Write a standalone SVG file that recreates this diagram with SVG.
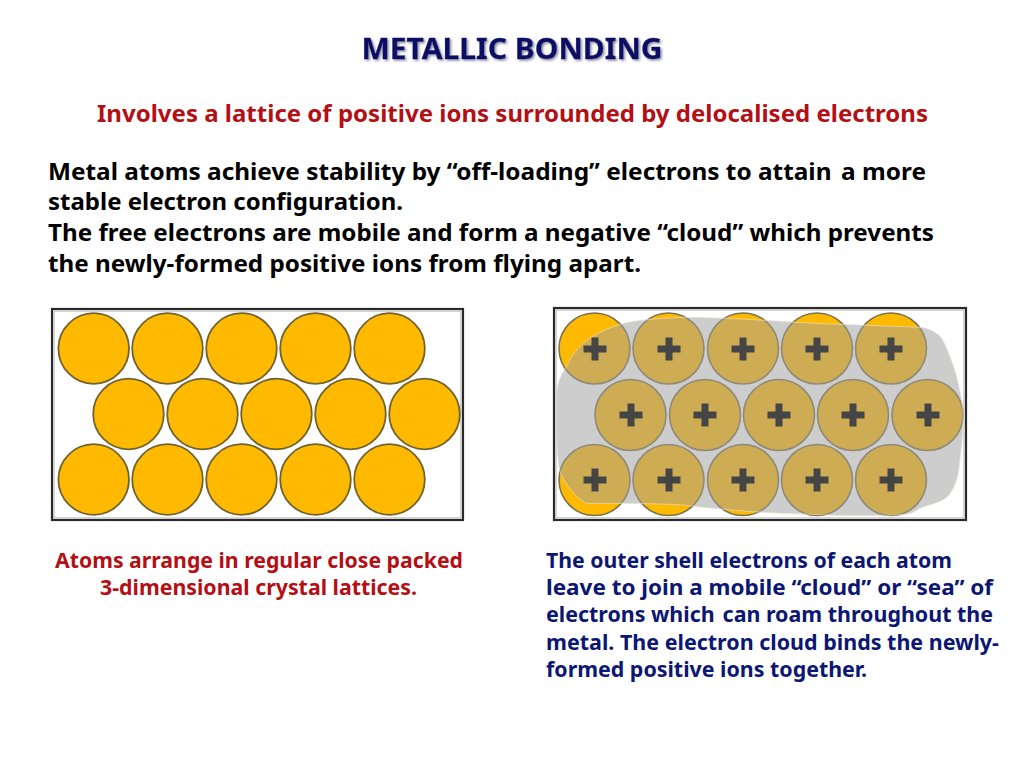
<svg xmlns="http://www.w3.org/2000/svg" width="1024" height="768" viewBox="0 0 1024 768">
<style>
text{font-family:"Noto Sans","Open Sans","DejaVu Sans",sans-serif;font-weight:700;white-space:pre}
.body{font-size:24px;fill:#000}
.red{font-size:20.5px;fill:#b30f14}
.blue{font-size:20.5px;fill:#0c1673}
.gap{word-spacing:-1.5px}
.frame{fill:#fff;stroke:#2c2c2c;stroke-width:2.2}
.inner{fill:none;stroke:#c4c4c4;stroke-width:1.4}
.atom{fill:#ffba00;stroke:#6f6330;stroke-width:1.8}
.atom2{fill:#ffba00;stroke:#7a7350;stroke-width:1.6}
.plus{fill:none;stroke:#444;stroke-width:7}
</style>
<defs>
<filter id="sh" x="-5%" y="-20%" width="110%" height="150%"><feDropShadow dx="1.5" dy="1.5" stdDeviation="0.8" flood-color="#8a8fa8"/></filter>
<filter id="soft" x="-2%" y="-2%" width="104%" height="104%"><feGaussianBlur stdDeviation="0.35"/></filter>
<circle id="a" r="35.300" class="atom"/>
<circle id="b" r="35.500" class="atom2"/>
<path id="p" class="plus" d="M-11.500 0H11.500M0-11.500V11.500"/>
</defs>
<rect width="1024" height="768" fill="#fff"/>
<text id="title" x="512" y="59" text-anchor="middle" font-size="29" fill="#0a0f66" stroke="#0a0f66" stroke-width=".3" filter="url(#sh)" textLength="301" lengthAdjust="spacingAndGlyphs">METALLIC BONDING</text>
<text x="97" y="122" font-size="23" fill="#b30f14" textLength="831" lengthAdjust="spacingAndGlyphs">Involves a lattice of positive ions surrounded by delocalised electrons</text>
<g>
<text class="body" x="48" y="180" textLength="878" lengthAdjust="spacingAndGlyphs">Metal atoms achieve stability by “off-loading” electrons to attain<tspan class="gap">  </tspan>a more</text>
<text class="body" x="48" y="210" textLength="355" lengthAdjust="spacingAndGlyphs">stable electron configuration.</text>
<text class="body" x="48" y="241" textLength="886" lengthAdjust="spacingAndGlyphs">The free electrons are mobile and form a negative “cloud” which prevents</text>
<text class="body" x="48" y="272" textLength="593" lengthAdjust="spacingAndGlyphs">the newly-formed positive ions from flying apart.</text>
</g>
<g id="lattice-left" filter="url(#soft)">
<rect class="frame" x="52" y="309" width="411" height="211"/>
<rect class="inner" x="54" y="311" width="407" height="207"/>
<use href="#a" x="93.700" y="348.500"/><use href="#a" x="167.500" y="348.500"/><use href="#a" x="241.500" y="348.500"/><use href="#a" x="315.500" y="348.500"/><use href="#a" x="389.500" y="348.500"/>
<use href="#a" x="128.500" y="414"/><use href="#a" x="202.500" y="414"/><use href="#a" x="276.500" y="414"/><use href="#a" x="350.500" y="414"/><use href="#a" x="424.500" y="414"/>
<use href="#a" x="93.700" y="479.500"/><use href="#a" x="167.500" y="479.500"/><use href="#a" x="241.500" y="479.500"/><use href="#a" x="315.500" y="479.500"/><use href="#a" x="389.500" y="479.500"/>
</g>
<g id="lattice-right" filter="url(#soft)">
<rect class="frame" x="554" y="308" width="412" height="212"/>
<rect class="inner" x="556" y="310" width="408" height="208"/>
<use href="#b" x="594.500" y="348.500"/><use href="#b" x="668.500" y="348.500"/><use href="#b" x="743" y="348.500"/><use href="#b" x="817" y="348.500"/><use href="#b" x="891" y="348.500"/>
<use href="#b" x="630.500" y="415"/><use href="#b" x="705" y="415"/><use href="#b" x="779" y="415"/><use href="#b" x="853" y="415"/><use href="#b" x="927.500" y="415"/>
<use href="#b" x="594.500" y="480"/><use href="#b" x="668.500" y="480"/><use href="#b" x="743" y="480"/><use href="#b" x="817" y="480"/><use href="#b" x="891" y="480"/>
<path id="cloud" transform="translate(540 295) scale(.3333)" fill="#a0a0a0" fill-opacity=".52" stroke="#e4e0d0" stroke-width="2" d="M80 215C100 170 130 125 235 90C270 75 400 64 500 68C650 72 800 86 900 88L1140 97C1170 100 1195 115 1205 130C1225 165 1240 210 1250 245C1260 290 1270 330 1270 370C1270 420 1262 470 1258 510C1255 550 1240 590 1221 606C1200 625 1160 630 1140 640C1125 650 1115 655 1100 658C1000 664 900 662 810 658C700 655 580 648 450 632C380 625 220 625 140 625C110 610 75 570 60 530C50 490 48 370 50 300C52 260 65 235 80 215Z"/>
<use href="#p" x="595" y="349"/><use href="#p" x="669" y="349"/><use href="#p" x="743" y="349"/><use href="#p" x="817" y="349"/><use href="#p" x="891" y="349"/>
<use href="#p" x="631" y="415"/><use href="#p" x="705" y="415"/><use href="#p" x="779" y="415"/><use href="#p" x="853" y="415"/><use href="#p" x="928" y="415"/>
<use href="#p" x="595" y="480"/><use href="#p" x="669" y="480"/><use href="#p" x="743" y="480"/><use href="#p" x="817" y="480"/><use href="#p" x="891" y="480"/>
</g>
<text class="red" x="55" y="568" textLength="408" lengthAdjust="spacingAndGlyphs">Atoms arrange in regular close packed</text>
<text class="red" x="100" y="595" textLength="317" lengthAdjust="spacingAndGlyphs">3-dimensional crystal lattices.</text>
<text class="blue" x="546" y="568" textLength="406" lengthAdjust="spacingAndGlyphs">The outer shell electrons of each atom</text>
<text class="blue" x="546" y="595" textLength="447" lengthAdjust="spacingAndGlyphs">leave to join a mobile “cloud” or “sea” of</text>
<text class="blue" x="546" y="622" textLength="447" lengthAdjust="spacingAndGlyphs">electrons which<tspan class="gap">  </tspan>can roam throughout the</text>
<text class="blue" x="546" y="650" textLength="453" lengthAdjust="spacingAndGlyphs">metal. The electron cloud binds the newly-</text>
<text class="blue" x="546" y="677" textLength="321" lengthAdjust="spacingAndGlyphs">formed positive ions together.</text>
</svg>
